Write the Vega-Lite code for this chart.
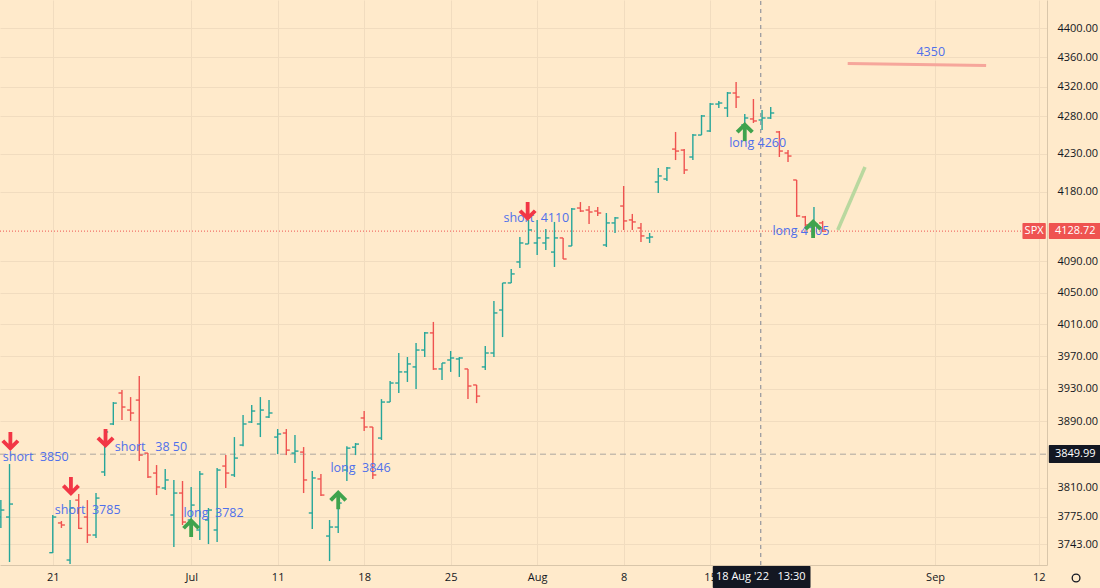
{
  "$schema": "https://vega.github.io/schema/vega-lite/v6.json",
  "width": 1047,
  "height": 565,
  "autosize": {"type": "none"},
  "padding": {"left": 0, "top": 0, "right": 53, "bottom": 23},
  "background": "#ffeacb",
  "config": {"view": {"stroke": null}, "text": {"font": "Open Sans"}},
  "data": {"values": [
    {"i": -6, "o": 3774.9, "h": 3795.0, "l": 3762.0, "c": 3783.2},
    {"i": -5, "o": 3774.9, "h": 3838.1, "l": 3722.1, "c": 3790.3},
    {"i": 0, "o": 3733.0, "h": 3777.3, "l": 3732.5, "c": 3774.9},
    {"i": 1, "o": 3767.9, "h": 3770.2, "l": 3762.0, "c": 3765.5},
    {"i": 2, "o": 3724.4, "h": 3795.0, "l": 3719.7, "c": 3785.6},
    {"i": 3, "o": 3795.0, "h": 3802.2, "l": 3760.8, "c": 3761.5},
    {"i": 4, "o": 3774.9, "h": 3795.0, "l": 3744.3, "c": 3753.7},
    {"i": 5, "o": 3753.7, "h": 3803.4, "l": 3750.2, "c": 3797.4},
    {"i": 6, "o": 3828.6, "h": 3879.3, "l": 3823.8, "c": 3876.9},
    {"i": 7, "o": 3886.6, "h": 3913.4, "l": 3885.3, "c": 3912.1},
    {"i": 8, "o": 3924.5, "h": 3928.2, "l": 3891.4, "c": 3907.3},
    {"i": 9, "o": 3903.6, "h": 3919.5, "l": 3890.2, "c": 3900.0},
    {"i": 10, "o": 3915.8, "h": 3945.5, "l": 3841.7, "c": 3848.9},
    {"i": 11, "o": 3851.3, "h": 3851.3, "l": 3821.4, "c": 3822.6},
    {"i": 12, "o": 3827.3, "h": 3836.9, "l": 3801.0, "c": 3810.6},
    {"i": 13, "o": 3809.4, "h": 3832.1, "l": 3806.9, "c": 3819.0},
    {"i": 14, "o": 3777.3, "h": 3819.0, "l": 3739.5, "c": 3803.4},
    {"i": 15, "o": 3803.4, "h": 3817.8, "l": 3765.5, "c": 3769.0},
    {"i": 16, "o": 3771.4, "h": 3810.6, "l": 3756.1, "c": 3789.1},
    {"i": 17, "o": 3759.6, "h": 3829.7, "l": 3747.8, "c": 3826.1},
    {"i": 18, "o": 3771.4, "h": 3785.6, "l": 3743.1, "c": 3783.2},
    {"i": 19, "o": 3759.6, "h": 3833.3, "l": 3745.6, "c": 3830.9},
    {"i": 20, "o": 3835.7, "h": 3848.9, "l": 3809.4, "c": 3827.3},
    {"i": 21, "o": 3825.0, "h": 3870.7, "l": 3822.6, "c": 3845.3},
    {"i": 22, "o": 3861.0, "h": 3897.5, "l": 3859.7, "c": 3886.6},
    {"i": 23, "o": 3889.0, "h": 3909.7, "l": 3887.8, "c": 3902.4},
    {"i": 24, "o": 3886.6, "h": 3919.5, "l": 3870.7, "c": 3903.6},
    {"i": 25, "o": 3895.1, "h": 3915.8, "l": 3893.9, "c": 3900.0},
    {"i": 26, "o": 3870.7, "h": 3880.5, "l": 3850.1, "c": 3874.4},
    {"i": 27, "o": 3875.6, "h": 3880.5, "l": 3848.9, "c": 3854.9},
    {"i": 28, "o": 3851.3, "h": 3873.2, "l": 3839.3, "c": 3853.7},
    {"i": 29, "o": 3852.5, "h": 3858.6, "l": 3803.4, "c": 3819.0},
    {"i": 30, "o": 3779.7, "h": 3829.7, "l": 3760.8, "c": 3821.4},
    {"i": 31, "o": 3820.2, "h": 3826.1, "l": 3799.8, "c": 3801.0},
    {"i": 32, "o": 3752.5, "h": 3771.4, "l": 3723.2, "c": 3763.1},
    {"i": 33, "o": 3763.1, "h": 3803.4, "l": 3756.1, "c": 3791.5},
    {"i": 34, "o": 3830.9, "h": 3859.7, "l": 3817.8, "c": 3857.3},
    {"i": 35, "o": 3858.5, "h": 3863.5, "l": 3848.9, "c": 3862.2},
    {"i": 36, "o": 3893.9, "h": 3902.4, "l": 3878.0, "c": 3882.9},
    {"i": 37, "o": 3882.9, "h": 3882.9, "l": 3820.2, "c": 3825.0},
    {"i": 38, "o": 3869.5, "h": 3917.0, "l": 3867.1, "c": 3913.4},
    {"i": 39, "o": 3913.4, "h": 3939.3, "l": 3913.4, "c": 3936.8},
    {"i": 40, "o": 3936.8, "h": 3974.0, "l": 3924.5, "c": 3950.5},
    {"i": 41, "o": 3950.5, "h": 3969.0, "l": 3938.1, "c": 3960.4},
    {"i": 42, "o": 3956.7, "h": 3986.5, "l": 3929.4, "c": 3977.7},
    {"i": 43, "o": 3977.7, "h": 4000.3, "l": 3969.0, "c": 3999.1},
    {"i": 44, "o": 3999.1, "h": 4012.9, "l": 3953.0, "c": 3954.2},
    {"i": 45, "o": 3954.2, "h": 3961.6, "l": 3940.6, "c": 3961.6},
    {"i": 46, "o": 3965.3, "h": 3976.5, "l": 3950.5, "c": 3967.8},
    {"i": 47, "o": 3966.6, "h": 3969.0, "l": 3944.3, "c": 3967.8},
    {"i": 48, "o": 3954.2, "h": 3954.2, "l": 3917.0, "c": 3933.1},
    {"i": 49, "o": 3934.4, "h": 3934.4, "l": 3912.1, "c": 3920.7},
    {"i": 50, "o": 3956.7, "h": 3982.7, "l": 3953.0, "c": 3974.0},
    {"i": 51, "o": 3974.0, "h": 4039.2, "l": 3969.0, "c": 4024.2},
    {"i": 52, "o": 4027.9, "h": 4062.2, "l": 3993.9, "c": 4062.2},
    {"i": 53, "o": 4062.2, "h": 4080.1, "l": 4062.2, "c": 4073.7},
    {"i": 54, "o": 4089.0, "h": 4121.1, "l": 4081.3, "c": 4113.4},
    {"i": 55, "o": 4112.1, "h": 4143.2, "l": 4112.1, "c": 4130.2},
    {"i": 56, "o": 4113.4, "h": 4143.2, "l": 4097.9, "c": 4119.9},
    {"i": 57, "o": 4113.4, "h": 4131.5, "l": 4104.3, "c": 4119.9},
    {"i": 58, "o": 4101.7, "h": 4140.6, "l": 4082.6, "c": 4119.9},
    {"i": 59, "o": 4119.9, "h": 4119.9, "l": 4092.8, "c": 4092.8},
    {"i": 60, "o": 4109.5, "h": 4158.7, "l": 4109.5, "c": 4157.4},
    {"i": 61, "o": 4158.7, "h": 4166.5, "l": 4153.5, "c": 4154.8},
    {"i": 62, "o": 4156.1, "h": 4161.3, "l": 4138.0, "c": 4153.5},
    {"i": 63, "o": 4154.8, "h": 4160.0, "l": 4148.4, "c": 4152.2},
    {"i": 64, "o": 4110.8, "h": 4152.2, "l": 4108.2, "c": 4139.3},
    {"i": 65, "o": 4139.3, "h": 4147.1, "l": 4126.3, "c": 4145.8},
    {"i": 66, "o": 4161.3, "h": 4187.5, "l": 4130.2, "c": 4141.9},
    {"i": 67, "o": 4143.2, "h": 4151.0, "l": 4130.2, "c": 4140.6},
    {"i": 68, "o": 4132.8, "h": 4139.3, "l": 4114.7, "c": 4122.5},
    {"i": 69, "o": 4119.9, "h": 4126.3, "l": 4113.4, "c": 4121.1},
    {"i": 70, "o": 4192.8, "h": 4211.2, "l": 4178.3, "c": 4200.7},
    {"i": 71, "o": 4196.7, "h": 4212.5, "l": 4194.1, "c": 4211.2},
    {"i": 72, "o": 4236.2, "h": 4259.0, "l": 4221.7, "c": 4233.6},
    {"i": 73, "o": 4234.9, "h": 4236.2, "l": 4203.3, "c": 4208.6},
    {"i": 74, "o": 4225.7, "h": 4256.3, "l": 4221.7, "c": 4254.9},
    {"i": 75, "o": 4254.9, "h": 4281.7, "l": 4254.9, "c": 4280.4},
    {"i": 76, "o": 4260.3, "h": 4297.8, "l": 4259.0, "c": 4296.4},
    {"i": 77, "o": 4296.4, "h": 4300.5, "l": 4291.1, "c": 4297.8},
    {"i": 78, "o": 4291.1, "h": 4312.7, "l": 4279.0, "c": 4311.3},
    {"i": 79, "o": 4311.3, "h": 4326.3, "l": 4291.1, "c": 4305.9},
    {"i": 80, "o": 4268.4, "h": 4283.1, "l": 4251.0, "c": 4277.7},
    {"i": 81, "o": 4276.4, "h": 4303.2, "l": 4271.0, "c": 4273.7},
    {"i": 82, "o": 4275.0, "h": 4288.4, "l": 4261.7, "c": 4277.7},
    {"i": 83, "o": 4277.7, "h": 4292.4, "l": 4276.4, "c": 4284.4},
    {"i": 84, "o": 4259.0, "h": 4260.3, "l": 4225.7, "c": 4233.6},
    {"i": 85, "o": 4231.0, "h": 4234.9, "l": 4219.1, "c": 4227.0},
    {"i": 86, "o": 4195.4, "h": 4195.4, "l": 4147.1, "c": 4148.4},
    {"i": 87, "o": 4147.1, "h": 4148.4, "l": 4132.8, "c": 4136.7},
    {"i": 88, "o": 4134.1, "h": 4160.0, "l": 4121.1, "c": 4138.0},
    {"i": 89, "o": 4139.3, "h": 4141.9, "l": 4127.6, "c": 4128.72}
  ]},
  "encoding": {
    "x": {
      "field": "i", "type": "quantitative", "title": null,
      "scale": {"domain": [-6.1, 114.94], "nice": false, "zero": false},
      "axis": {
        "values": [0, 16, 26, 36, 46, 56, 66, 76, 102, 114],
        "labelExpr": "datum.value == 0 ? '21' : datum.value == 16 ? 'Jul' : datum.value == 26 ? '11' : datum.value == 36 ? '18' : datum.value == 46 ? '25' : datum.value == 56 ? 'Aug' : datum.value == 66 ? '8' : datum.value == 76 ? '15' : datum.value == 102 ? 'Sep' : '12'",
        "grid": true, "gridColor": "#f1dcbf", "gridWidth": 1,
        "domain": true, "domainColor": "#d9c6aa",
        "ticks": false, "labelPadding": 6, "labelFontSize": 11,
        "labelColor": "#131722", "labelFont": "Open Sans",
        "labelFlush": false, "labelOverlap": false
      }
    },
    "y": {
      "field": "p", "type": "quantitative", "title": null,
      "scale": {"type": "log", "domain": [3718.6, 4438.8], "nice": false},
      "axis": {
        "orient": "right",
        "values": [4440, 4400, 4360, 4320, 4280, 4230, 4180, 4090, 4050, 4010, 3970, 3930, 3890, 3810, 3775, 3743],
        "format": ".2f", "grid": true, "gridColor": "#f1dcbf", "gridWidth": 1,
        "domain": true, "domainColor": "#d9c6aa",
        "ticks": false, "labelPadding": 10, "labelFontSize": 11,
        "labelColor": "#131722", "labelFont": "Open Sans",
        "labelAlign": "left", "labelBaseline": "middle",
        "labelFlush": false, "labelOverlap": false
      }
    }
  },
  "layer": [
    {
      "data": {"values": [{"i": -6.1, "i2": 114.94, "p": 3849.99}]},
      "mark": {"type": "rule", "color": "#aca79f", "strokeWidth": 1, "strokeDash": [6, 4]},
      "encoding": {"x2": {"field": "i2"}}
    },
    {
      "data": {"values": [{"i": -6.1, "i2": 112.1, "p": 4128.72}]},
      "mark": {"type": "rule", "color": "#ef5350", "strokeWidth": 1, "strokeDash": [1, 2]},
      "encoding": {"x2": {"field": "i2"}}
    },
    {
      "data": {"values": [{"i": 81.85, "p": 3718.6, "p2": 4438.8}]},
      "mark": {"type": "rule", "color": "#7e8494", "strokeWidth": 1, "strokeDash": [4, 4]},
      "encoding": {"y2": {"field": "p2"}}
    },
    {
      "mark": {"type": "rule", "strokeWidth": 1.4},
      "encoding": {
        "y": {"field": "l", "type": "quantitative", "title": null, "scale": {"type": "log", "domain": [3718.6, 4438.8], "nice": false}},
        "y2": {"field": "h"},
        "color": {"condition": {"test": "datum.c >= datum.o", "value": "#26a69a"}, "value": "#ef5350"}
      }
    },
    {
      "mark": {"type": "rule", "strokeWidth": 1.4, "xOffset": -3.5, "x2Offset": 0},
      "encoding": {
        "x2": {"field": "i"},
        "y": {"field": "o", "type": "quantitative", "title": null, "scale": {"type": "log", "domain": [3718.6, 4438.8], "nice": false}},
        "color": {"condition": {"test": "datum.c >= datum.o", "value": "#26a69a"}, "value": "#ef5350"}
      }
    },
    {
      "mark": {"type": "rule", "strokeWidth": 1.4, "xOffset": 0, "x2Offset": 3.5},
      "encoding": {
        "x2": {"field": "i"},
        "y": {"field": "c", "type": "quantitative", "title": null, "scale": {"type": "log", "domain": [3718.6, 4438.8], "nice": false}},
        "color": {"condition": {"test": "datum.c >= datum.o", "value": "#26a69a"}, "value": "#ef5350"}
      }
    },
    {
      "data": {"values": [{"i": 91.9, "p": 4351.4}, {"i": 107.9, "p": 4348.7}]},
      "mark": {"type": "line", "color": "#f6a69b", "strokeWidth": 3, "strokeCap": "butt"},
      "encoding": {}
    },
    {
      "data": {"values": [{"i": 90.75, "p": 4130.2}, {"i": 93.9, "p": 4212.5}]},
      "mark": {"type": "line", "color": "#b9d89f", "strokeWidth": 3.5, "strokeCap": "butt"},
      "encoding": {}
    },
    {
      "data": {"values": [
        {"i": -5.78, "p": 3847.1, "t": "short\u00a0\u00a03850"},
        {"i": 0.23, "p": 3783.8, "t": "short\u00a0\u00a03785"},
        {"i": 7.17, "p": 3858.6, "t": "short\u00a0\u00a0\u00a038 50"},
        {"i": 52.1, "p": 4145.1, "t": "short\u00a0\u00a04110"},
        {"i": 15.1, "p": 3779.1, "t": "long\u00a0\u00a03782"},
        {"i": 32.1, "p": 3833.3, "t": "long\u00a0\u00a03846"},
        {"i": 78.2, "p": 4244.3, "t": "long 4260"},
        {"i": 83.2, "p": 4128.9, "t": "long 4105"}
      ]},
      "mark": {"type": "text", "align": "left", "baseline": "middle", "fontSize": 12.5, "color": "#4f70ea", "font": "Open Sans"},
      "encoding": {"text": {"field": "t"}}
    },
    {
      "data": {"values": [{"i": 101.5, "p": 4367.1, "t": "4350"}]},
      "mark": {"type": "text", "align": "center", "baseline": "middle", "fontSize": 12.5, "color": "#4f70ea", "font": "Open Sans"},
      "encoding": {"text": {"field": "t"}}
    },
    {
      "data": {"values": [
        {"i": -4.9, "p": 3865.9},
        {"i": 2.1, "p": 3811.8},
        {"i": 6.1, "p": 3869.5},
        {"i": 54.9, "p": 4154.8}
      ]},
      "mark": {"type": "point", "shape": "M-0.21,-1L0.21,-1L0.21,0.3L0.68,-0.18L0.99,0.12L0,1.1L-0.99,0.12L-0.68,-0.18L-0.21,0.3Z", "filled": true, "size": 330, "color": "#f23645", "opacity": 1, "strokeWidth": 0},
      "encoding": {}
    },
    {
      "data": {"values": [
        {"i": 16, "p": 3762.0},
        {"i": 33, "p": 3795.0},
        {"i": 80, "p": 4259.0},
        {"i": 87.9, "p": 4131.5}
      ]},
      "mark": {"type": "point", "shape": "M-0.21,1L0.21,1L0.21,-0.3L0.68,0.18L0.99,-0.12L0,-1.1L-0.99,-0.12L-0.68,0.18L-0.21,-0.3Z", "filled": true, "size": 330, "color": "#3fa34d", "opacity": 1, "strokeWidth": 0},
      "encoding": {}
    },
    {
      "data": {"values": [
        {"i": 112.1, "i2": 114.8, "p": 4118.5, "p2": 4139.2},
        {"i": 115.15, "i2": 121.3, "p": 4118.5, "p2": 4139.2}
      ]},
      "mark": {"type": "rect", "color": "#ef5350", "cornerRadius": 1},
      "encoding": {"x2": {"field": "i2"}, "y2": {"field": "p2"}}
    },
    {
      "data": {"values": [
        {"i": 115.15, "i2": 121.3, "p": 3839.4, "p2": 3861.1},
        {"i": 76.3, "i2": 87.6, "p": 3692.0, "p2": 3717.4}
      ]},
      "mark": {"type": "rect", "color": "#131722", "cornerRadius": 1},
      "encoding": {"x2": {"field": "i2"}, "y2": {"field": "p2"}}
    },
    {
      "data": {"values": [
        {"i": 113.45, "p": 4128.72, "t": "SPX"},
        {"i": 118.2, "p": 4128.72, "t": "4128.72"},
        {"i": 118.2, "p": 3849.99, "t": "3849.99"},
        {"i": 81.85, "p": 3704.7, "t": "18 Aug '22\u00a0\u00a0\u00a013:30"}
      ]},
      "mark": {"type": "text", "align": "center", "baseline": "middle", "fontSize": 11, "color": "#ffffff", "font": "Open Sans"},
      "encoding": {"text": {"field": "t"}}
    },
    {
      "data": {"values": [{"i": 118.3, "p": 3703.5}]},
      "mark": {"type": "point", "shape": "circle", "filled": false, "size": 60, "color": "#131722", "strokeWidth": 1.3, "opacity": 1},
      "encoding": {}
    }
  ]
}
